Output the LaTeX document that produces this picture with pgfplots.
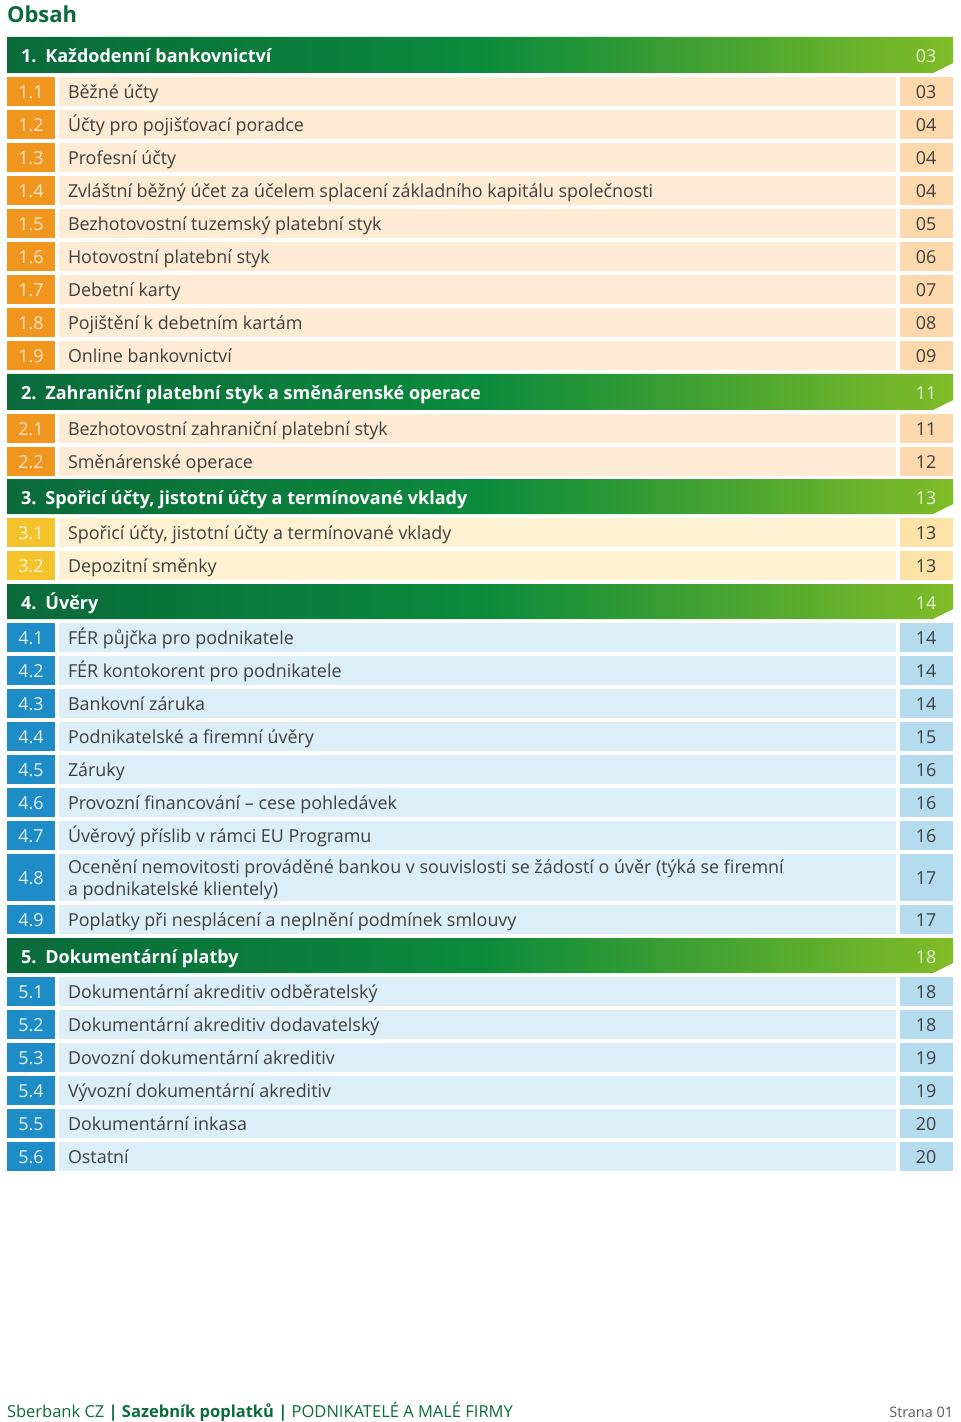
\documentclass[border=0pt]{standalone}
\usepackage{pgfplots}
\pgfplotsset{compat=1.18}
\usepackage{fontspec}
\setmainfont{Open Sans}
\definecolor{hdA}{HTML}{0A6A3B}
\definecolor{hdB}{HTML}{0B8A3C}
\definecolor{hdC}{HTML}{80BC27}
\definecolor{hdPg}{HTML}{E4F1D3}
\definecolor{sbgreen}{HTML}{0B6B3C}
\definecolor{txt}{HTML}{404040}
\definecolor{oN}{HTML}{F0951D}
\definecolor{oR}{HTML}{FDEBD4}
\definecolor{oP}{HTML}{FCD8AC}
\definecolor{oT}{HTML}{FDE6CA}
\definecolor{yN}{HTML}{F4C22B}
\definecolor{yR}{HTML}{FEF2D3}
\definecolor{yP}{HTML}{FBE3A8}
\definecolor{yT}{HTML}{FFF6DC}
\definecolor{bN}{HTML}{1E8CC6}
\definecolor{bR}{HTML}{DCEEF8}
\definecolor{bP}{HTML}{B5DBEE}
\definecolor{bT}{HTML}{E6F3FB}
\newcommand{\rowfont}{\fontsize{8.95}{10.5}\selectfont}
\newcommand{\hdfont}{\fontsize{9.0}{11}\selectfont\bfseries}
\tikzset{t/.style={inner sep=0pt, outer sep=0pt}}
% header: top, bottom, cut, center, title, page
\newcommand{\hdr}[6]{%
  \addplot[draw=none, left color=hdA, right color=hdC, middle color=hdB]
    coordinates {(7,#1) (953,#1) (953,#3) (933,#2) (7,#2)} -- cycle;
  \node[t, anchor=base west, yshift=-4.0pt, font=\hdfont, text=white] at (axis cs:21,#4) {#5};
  \node[t, anchor=base, yshift=-4.0pt, font=\rowfont, text=hdPg] at (axis cs:926,#4) {#6};
}
% row: top, bottom, center, number, text, page, scheme
\newcommand{\tocrow}[7]{%
  \addplot[draw=none, fill=#7N] coordinates {(7,#1) (55,#1) (55,#2) (7,#2)} -- cycle;
  \addplot[draw=none, fill=#7R] coordinates {(59,#1) (896,#1) (896,#2) (59,#2)} -- cycle;
  \addplot[draw=none, fill=#7P] coordinates {(900,#1) (953,#1) (953,#2) (900,#2)} -- cycle;
  \node[t, anchor=base, yshift=-3.6pt, font=\rowfont, text=#7T] at (axis cs:31,#3) {#4};
  \node[t, anchor=base west, yshift=-3.6pt, font=\rowfont, text=txt] at (axis cs:68,#3) {#5};
  \node[t, anchor=base, yshift=-3.6pt, font=\rowfont, text=txt] at (axis cs:926,#3) {#6};
}
\begin{document}
\begin{tikzpicture}
\begin{axis}[
  scale only axis, width=480pt, height=711pt,
  xmin=0, xmax=960, ymin=0, ymax=1422, y dir=reverse,
  axis lines=none, xtick=\empty, ytick=\empty, clip=false]
\path (axis cs:0,0) rectangle (axis cs:960,1422);
\node[t, anchor=base west, font=\fontsize{11}{13}\selectfont\bfseries, text=sbgreen] at (axis cs:7,22.5) {Obsah};
\hdr{37}{73}{63}{55}{1.\enspace Každodenní bankovnictví}{03}
\tocrow{77}{106}{91.5}{1.1}{Běžné účty}{03}{o}
\tocrow{110}{139}{124.5}{1.2}{Účty pro pojišťovací poradce}{04}{o}
\tocrow{143}{172}{157.5}{1.3}{Profesní účty}{04}{o}
\tocrow{176}{205}{190.5}{1.4}{Zvláštní běžný účet za účelem splacení základního kapitálu společnosti}{04}{o}
\tocrow{209}{238}{223.5}{1.5}{Bezhotovostní tuzemský platební styk}{05}{o}
\tocrow{242}{271}{256.5}{1.6}{Hotovostní platební styk}{06}{o}
\tocrow{275}{304}{289.5}{1.7}{Debetní karty}{07}{o}
\tocrow{308}{337}{322.5}{1.8}{Pojištění k debetním kartám}{08}{o}
\tocrow{341}{370}{355.5}{1.9}{Online bankovnictví}{09}{o}
\hdr{374}{410}{400}{392}{2.\enspace Zahraniční platební styk a směnárenské operace}{11}
\tocrow{414}{443}{428.5}{2.1}{Bezhotovostní zahraniční platební styk}{11}{o}
\tocrow{447}{476}{461.5}{2.2}{Směnárenské operace}{12}{o}
\hdr{479}{514}{504}{496.5}{3.\enspace Spořicí účty, jistotní účty a termínované vklady}{13}
\tocrow{518}{547}{532.5}{3.1}{Spořicí účty, jistotní účty a termínované vklady}{13}{y}
\tocrow{551}{580}{565.5}{3.2}{Depozitní směnky}{13}{y}
\hdr{584}{619}{609}{601.5}{4.\enspace Úvěry}{14}
\tocrow{623}{652}{637.5}{4.1}{FÉR půjčka pro podnikatele}{14}{b}
\tocrow{656}{685}{670.5}{4.2}{FÉR kontokorent pro podnikatele}{14}{b}
\tocrow{689}{718}{703.5}{4.3}{Bankovní záruka}{14}{b}
\tocrow{722}{751}{736.5}{4.4}{Podnikatelské a firemní úvěry}{15}{b}
\tocrow{755}{784}{769.5}{4.5}{Záruky}{16}{b}
\tocrow{788}{817}{802.5}{4.6}{Provozní financování -- cese pohledávek}{16}{b}
\tocrow{821}{850}{835.5}{4.7}{Úvěrový příslib v rámci EU Programu}{16}{b}
\tocrow{854}{901}{877.5}{4.8}{}{17}{b}
\node[t, anchor=base west, yshift=-3.6pt, font=\rowfont, text=txt] at (axis cs:68,866.5) {Ocenění nemovitosti prováděné bankou v souvislosti se žádostí o úvěr (týká se firemní};
\node[t, anchor=base west, yshift=-3.6pt, font=\rowfont, text=txt] at (axis cs:68,888.5) {a podnikatelské klientely)};
\tocrow{905}{934}{919.5}{4.9}{Poplatky při nesplácení a neplnění podmínek smlouvy}{17}{b}
\hdr{938}{973}{963}{955.5}{5.\enspace Dokumentární platby}{18}
\tocrow{977}{1006}{991.5}{5.1}{Dokumentární akreditiv odběratelský}{18}{b}
\tocrow{1010}{1039}{1024.5}{5.2}{Dokumentární akreditiv dodavatelský}{18}{b}
\tocrow{1043}{1072}{1057.5}{5.3}{Dovozní dokumentární akreditiv}{19}{b}
\tocrow{1076}{1105}{1090.5}{5.4}{Vývozní dokumentární akreditiv}{19}{b}
\tocrow{1109}{1138}{1123.5}{5.5}{Dokumentární inkasa}{20}{b}
\tocrow{1142}{1171}{1156.5}{5.6}{Ostatní}{20}{b}
\node[t, anchor=base west, font=\fontsize{8.25}{9}\selectfont, text=sbgreen] at (axis cs:7,1417) {Sberbank CZ \textbf{|} \textbf{Sazebník poplatků} \textbf{|} PODNIKATELÉ A MALÉ FIRMY};
\node[t, anchor=base east, font=\fontsize{7.2}{9}\selectfont, text=black!65] at (axis cs:953,1417) {Strana 01};
\end{axis}
\end{tikzpicture}
\end{document}
